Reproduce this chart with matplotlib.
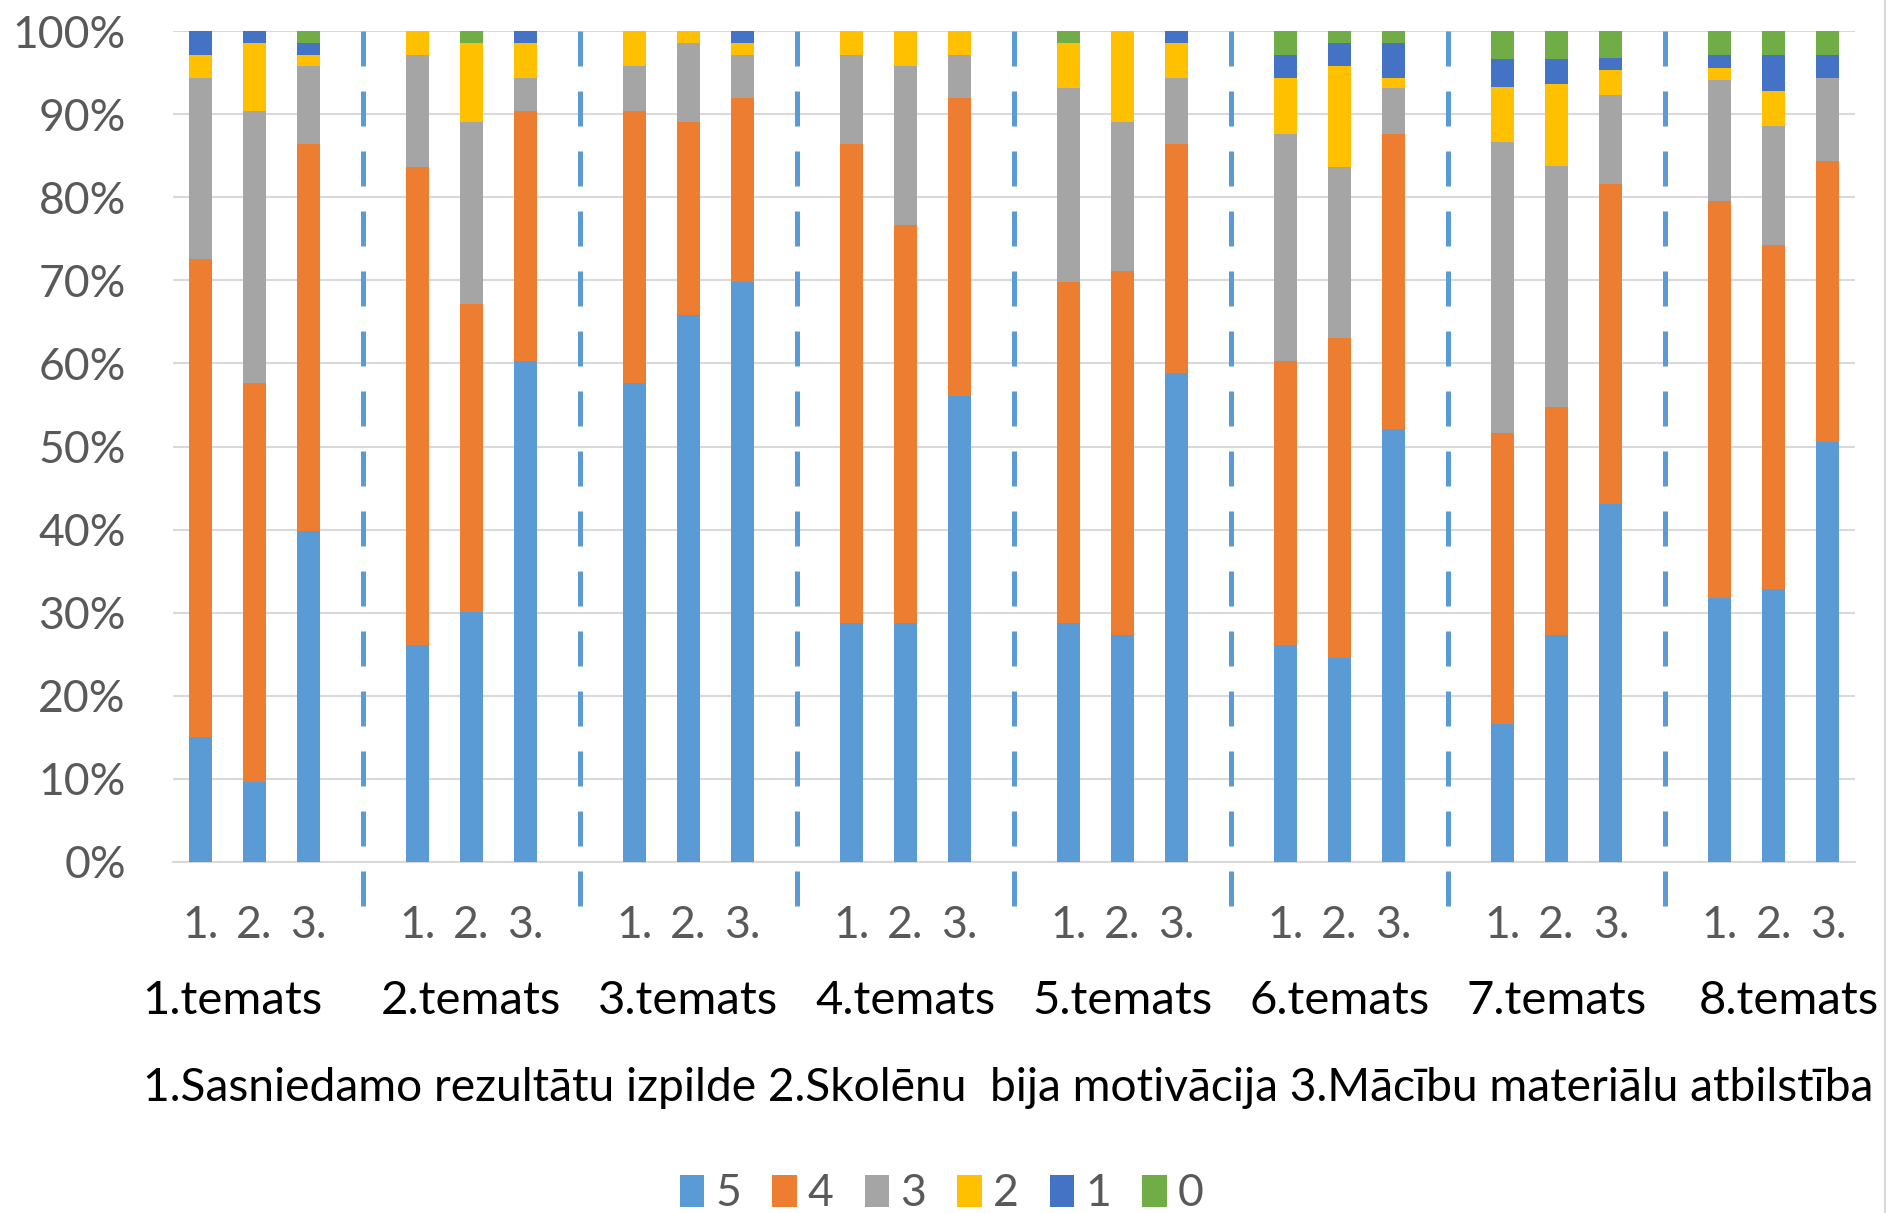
import numpy as np
import matplotlib
matplotlib.use("Agg")
import matplotlib.pyplot as plt
from matplotlib.lines import Line2D

plt.rcParams['font.family'] = ['Lato', 'DejaVu Sans']

# share of each grade (%) per bar: 8 topics x 3 criteria
themes = ["1.temats", "2.temats", "3.temats", "4.temats",
          "5.temats", "6.temats", "7.temats", "8.temats"]
criteria = ["1.", "2.", "3."]
grades = ["5", "4", "3", "2", "1", "0"]

s5 = [15.0, 9.6, 39.8, 26.1, 30.1, 60.3, 57.6, 65.8, 69.8, 28.8, 28.8, 56.1,
      28.8, 27.3, 58.9, 26.1, 24.6, 52.1, 16.6, 27.3, 43.1, 31.8, 32.8, 50.6]
s4 = [57.6, 48.0, 46.6, 57.5, 37.0, 30.1, 32.8, 23.3, 22.1, 57.6, 47.8, 35.8,
      41.0, 43.8, 27.5, 34.2, 38.5, 35.5, 35.0, 27.5, 38.5, 47.8, 41.5, 33.8]
s3 = [21.7, 32.8, 9.4, 13.5, 22.0, 4.0, 5.4, 9.5, 5.2, 10.7, 19.2, 5.2,
      23.3, 18.0, 8.0, 27.3, 20.5, 5.5, 35.0, 29.0, 10.7, 14.5, 14.3, 10.0]
s2 = [2.8, 8.2, 1.3, 2.9, 9.5, 4.2, 4.2, 1.4, 1.5, 2.9, 4.2, 2.9,
      5.5, 10.9, 4.2, 6.7, 12.2, 1.2, 6.7, 9.8, 3.0, 1.5, 4.2, 0.0]
s1 = [2.9, 1.4, 1.5, 0.0, 0.0, 1.4, 0.0, 0.0, 1.4, 0.0, 0.0, 0.0,
      0.0, 0.0, 1.4, 2.8, 2.8, 4.3, 3.3, 3.0, 1.5, 1.5, 4.3, 2.7]
s0 = [0.0, 0.0, 1.4, 0.0, 1.4, 0.0, 0.0, 0.0, 0.0, 0.0, 0.0, 0.0,
      1.4, 0.0, 0.0, 2.9, 1.4, 1.4, 3.4, 3.4, 3.2, 2.9, 2.9, 2.9]

bottom_title = "1.Sasniedamo rezultātu izpilde 2.Skolēnu  bija motivācija 3.Mācību materiālu atbilstība"

colors = ["#5B9BD5", "#ED7D31", "#A5A5A5", "#FFC000", "#4472C4", "#70AD47"]
series = [s5, s4, s3, s2, s1, s0]

# each topic takes 3 slots plus one empty slot as a gap
n_crit = len(criteria)
xpos = np.array([g * (n_crit + 1) + b for g in range(len(themes)) for b in range(n_crit)])

fig = plt.figure(figsize=(18.95, 12.13), dpi=100)
ax = fig.add_axes([0.0913, 0.2894, 0.8876, 0.6850])

bottom = np.zeros(len(xpos))
for vals, col, lab in zip(series, colors, grades):
    vals = np.array(vals)
    ax.bar(xpos, vals, width=0.42, bottom=bottom, color=col, label=lab, zorder=3)
    bottom += vals

ax.set_xlim(-0.5, xpos[-1] + 0.5)
ax.set_ylim(0, 100)
ax.set_yticks(np.arange(0, 101, 10))
ax.set_yticklabels([f"{v}%" for v in range(0, 101, 10)])
ax.yaxis.grid(True, color="#D9D9D9", linewidth=1.5, zorder=0)
ax.set_axisbelow(True)
for side in ["top", "right", "left"]:
    ax.spines[side].set_visible(False)
ax.spines["bottom"].set_color("#D9D9D9")
ax.spines["bottom"].set_linewidth(1.5)
ax.tick_params(axis="y", length=0, pad=34, labelsize=32, labelcolor="#595959")

ax.set_xticks(xpos)
ax.set_xticklabels(criteria * len(themes))
ax.tick_params(axis="x", length=0, pad=31, labelsize=32, labelcolor="#595959")

# dashed separators between topics
for g in range(len(themes) - 1):
    xs = g * (n_crit + 1) + n_crit
    ln = Line2D([xs, xs], [100, -7.6], color="#5B9BD5", linewidth=3.6,
                linestyle=(0, (7, 5)), clip_on=False, zorder=4)
    ax.add_line(ln)

# topic names under each group
trans = ax.get_xaxis_transform()
shift = [-0.4, 0, 0, 0, 0, 0, 0, 0.29]
for g, name in enumerate(themes):
    xc = g * (n_crit + 1) + (n_crit - 1) / 2 + shift[g]
    ax.text(xc, -0.167, name, transform=trans, ha="center", va="center",
            fontsize=34, color="#000000")

fig.text(143 / 1895, 1 - 1088 / 1213, bottom_title, ha="left", va="center",
         fontsize=33.2, color="#000000")

# chart area border on the right
fig.add_artist(Line2D([1885 / 1895, 1885 / 1895], [0, 1], color="#D9D9D9",
                      linewidth=1.5, transform=fig.transFigure))

handles, labels = ax.get_legend_handles_labels()
fig.legend(handles, labels, loc="center", bbox_to_anchor=(0.497, 1 - 1194 / 1213),
           ncol=6, frameon=False, fontsize=32, handlelength=0.55, handleheight=0.75,
           handletextpad=0.25, columnspacing=0.7, labelcolor="#595959")

fig.savefig("out.png", dpi=100)
